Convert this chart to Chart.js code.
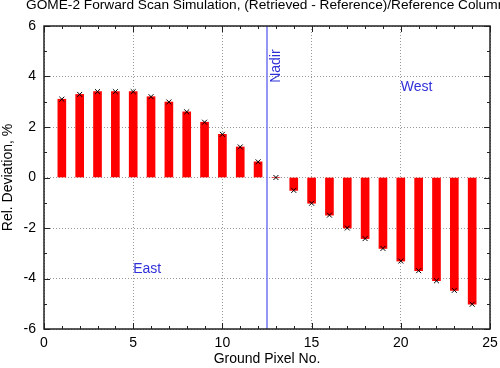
<!DOCTYPE html>
<html>
<head>
<meta charset="utf-8">
<script src="https://cdn.jsdelivr.net/npm/chart.js@4.4.0/dist/chart.umd.min.js"></script>
<style>
  html, body { margin: 0; padding: 0; background: #fff; }
  #wrap { width: 500px; height: 368px; }
</style>
</head>
<body>
<div id="wrap"><canvas id="chart"></canvas></div>
<script>
const groundPixels = [1, 2, 3, 4, 5, 6, 7, 8, 9, 10, 11, 12, 13, 14, 15, 16, 17, 18, 19, 20, 21, 22, 23, 24];
const relDeviation = [3.10, 3.29, 3.40, 3.40, 3.40, 3.20, 2.99, 2.60, 2.19, 1.71, 1.21, 0.62,
  0.00, -0.51, -1.02, -1.49, -2.00, -2.42, -2.81, -3.31, -3.69, -4.09, -4.47, -5.02];
const nadirPixel = 12.5;
const xRange = [0, 25];
const yRange = [-6, 6];

const FONT = "'Liberation Sans', Helvetica, Arial, sans-serif";
const points = groundPixels.map((p, i) => ({ x: p, y: relDeviation[i] }));

// gnuplot-like frame with inward ticks on all four sides
const frameTicks = {
  id: "frameTicks",
  afterDatasetsDraw(chart) {
    const { ctx, chartArea: a, scales: { x, y } } = chart;
    ctx.save();
    ctx.strokeStyle = "#222";
    ctx.lineWidth = 1;
    ctx.beginPath();
    for (let v = xRange[0]; v <= xRange[1]; v++) {
      const len = v % 5 === 0 ? 6 : 3;
      const px = Math.round(x.getPixelForValue(v)) + 0.5;
      ctx.moveTo(px, a.bottom); ctx.lineTo(px, a.bottom - len);
      ctx.moveTo(px, a.top); ctx.lineTo(px, a.top + len);
    }
    for (let v = yRange[0]; v <= yRange[1]; v++) {
      const len = v % 2 === 0 ? 6 : 3;
      const py = Math.round(y.getPixelForValue(v)) + 0.5;
      ctx.moveTo(a.left, py); ctx.lineTo(a.left + len, py);
      ctx.moveTo(a.right, py); ctx.lineTo(a.right - len, py);
    }
    ctx.stroke();
    ctx.lineWidth = 1.5;
    ctx.strokeRect(a.left, a.top, a.right - a.left, a.bottom - a.top);
    ctx.restore();
  }
};

const labels = {
  id: "labels",
  afterDraw(chart) {
    const { ctx, scales: { x, y } } = chart;
    ctx.save();
    ctx.fillStyle = "#000";
    ctx.font = "13.7px " + FONT;
    ctx.textAlign = "left";
    ctx.textBaseline = "alphabetic";
    ctx.fillText("GOME-2 Forward Scan Simulation, (Retrieved - Reference)/Reference Column", 26, 9);

    ctx.fillStyle = "#3030d8";
    ctx.font = "14px " + FONT;
    ctx.fillText("West", x.getPixelForValue(20), y.getPixelForValue(3.43));
    ctx.fillText("East", x.getPixelForValue(5), y.getPixelForValue(-3.8));

    ctx.translate(x.getPixelForValue(nadirPixel) + 13, y.getPixelForValue(3.75));
    ctx.rotate(-Math.PI / 2);
    ctx.fillText("Nadir", 0, 0);
    ctx.restore();
  }
};

new Chart(document.getElementById("chart"), {
  type: "bar",
  data: {
    datasets: [
      {
        type: "line",
        data: points,
        showLine: false,
        pointStyle: "crossRot",
        pointRadius: 3.5,
        borderColor: "#000",
        borderWidth: 1,
        order: 0
      },
      {
        type: "line",
        data: [{ x: nadirPixel, y: yRange[0] }, { x: nadirPixel, y: yRange[1] }],
        borderColor: "#7272f2",
        borderWidth: 1.5,
        pointRadius: 0,
        order: 1
      },
      {
        type: "bar",
        data: points,
        backgroundColor: "#ff0000",
        borderWidth: 0,
        barThickness: 8,
        order: 2
      }
    ]
  },
  options: {
    responsive: true,
    maintainAspectRatio: false,
    animation: false,
    layout: { padding: { top: 26, right: 10, left: 0, bottom: 0 } },
    plugins: { legend: { display: false }, tooltip: { enabled: false } },
    scales: {
      x: {
        type: "linear",
        min: xRange[0],
        max: xRange[1],
        offset: false,
        afterFit: (s) => { s.height = 39; s.paddingRight = 0; s.paddingLeft = 0; },
        ticks: { stepSize: 5, color: "#000", padding: 6, font: { family: FONT, size: 14 } },
        grid: { offset: false, color: "#999", lineWidth: 1, drawTicks: false },
        border: { display: false, dash: [1, 2] },
        title: {
          display: true,
          text: "Ground Pixel No.",
          color: "#000",
          font: { family: FONT, size: 14 },
          padding: { top: 0, bottom: 0 }
        }
      },
      y: {
        min: yRange[0],
        max: yRange[1],
        afterFit: (s) => { s.width = 44; s.paddingTop = 0; s.paddingBottom = 0; },
        ticks: { stepSize: 2, color: "#000", padding: 8, font: { family: FONT, size: 14 } },
        grid: { color: "#999", lineWidth: 1, drawTicks: false },
        border: { display: false, dash: [1, 2] },
        title: {
          display: true,
          text: "Rel. Deviation, %",
          color: "#000",
          font: { family: FONT, size: 14 },
          padding: { top: 0, bottom: 0 }
        }
      }
    }
  },
  plugins: [frameTicks, labels]
});
</script>
</body>
</html>
